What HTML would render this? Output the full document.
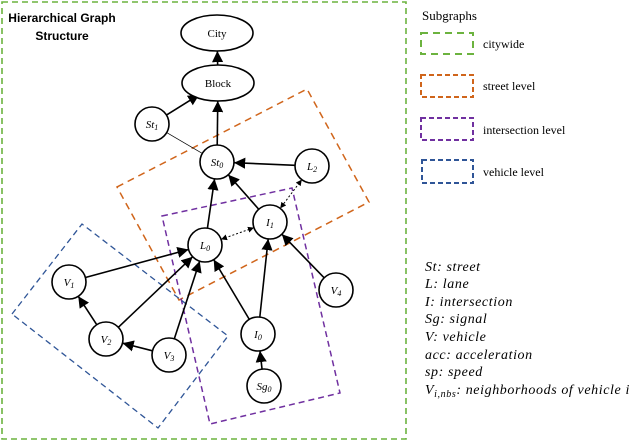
<!DOCTYPE html>
<html><head><meta charset="utf-8"><style>
body{margin:0;background:#fff;}
svg{display:block;}
.n{fill:#fff;stroke:#000;stroke-width:1.6;}
.t{font-family:"Liberation Serif",serif;font-size:11px;font-style:italic;}
.lg{font-family:"Liberation Serif",serif;font-size:12px;}
.it{font-family:"Liberation Serif",serif;font-size:14px;font-style:italic;letter-spacing:0.6px;}
</style></head><body>
<svg id="s" width="640" height="442" viewBox="0 0 640 442" xmlns="http://www.w3.org/2000/svg">
<defs><marker id="a" viewBox="0 0 10 10" refX="10" refY="5" markerWidth="6" markerHeight="6" orient="auto-start-reverse"><path d="M0,0L10,5L0,10z"/></marker>
<marker id="b" viewBox="0 0 10 10" refX="10" refY="5" markerWidth="7" markerHeight="7" orient="auto-start-reverse"><path d="M0,0L10,5L0,10z"/></marker></defs>
<rect x="2" y="2" width="404" height="437" fill="none" stroke="#6cb33f" stroke-width="1.6" stroke-dasharray="6,4"/>
<polygon points="117,187 307,89 369,202 179,300" fill="none" stroke="#d0651b" stroke-width="1.5" stroke-dasharray="7,5"/>
<polygon points="162,216 292,188 340,393 210,424" fill="none" stroke="#7030a0" stroke-width="1.5" stroke-dasharray="6,4"/>
<polygon points="12,314 82,224 228,336 158,428" fill="none" stroke="#2f5597" stroke-width="1.3" stroke-dasharray="6,4"/>
<text x="62" y="22" text-anchor="middle" font-family="Liberation Sans,sans-serif" font-weight="bold" font-size="12">Hierarchical Graph</text>
<text x="62" y="40" text-anchor="middle" font-family="Liberation Sans,sans-serif" font-weight="bold" font-size="12">Structure</text>
<g id="e"></g>
<ellipse class="n" cx="217" cy="33" rx="36" ry="18"/><text x="217" y="37" text-anchor="middle" font-family="Liberation Serif,serif" font-size="11">City</text>
<ellipse class="n" cx="218" cy="83" rx="36" ry="18"/><text x="218" y="87" text-anchor="middle" font-family="Liberation Serif,serif" font-size="11">Block</text>
<g id="nodes"></g>
<text x="422" y="20" font-family="Liberation Serif,serif" font-size="13">Subgraphs</text>
<rect x="421" y="33" width="52" height="21" fill="none" stroke="#6cb33f" stroke-width="2" stroke-dasharray="7,5"/>
<rect x="421" y="75" width="52" height="22" fill="none" stroke="#d0651b" stroke-width="2" stroke-dasharray="5,3"/>
<rect x="421" y="118" width="52" height="22" fill="none" stroke="#7030a0" stroke-width="2" stroke-dasharray="5,3"/>
<rect x="422" y="160" width="51" height="23" fill="none" stroke="#2f5597" stroke-width="2" stroke-dasharray="5,3"/>
<text class="lg" x="483" y="48">citywide</text>
<text class="lg" x="483" y="90">street level</text>
<text class="lg" x="483" y="134">intersection level</text>
<text class="lg" x="483" y="176">vehicle level</text>
<text class="it" x="425" y="271">St: street</text>
<text class="it" x="425" y="288">L: lane</text>
<text class="it" x="425" y="306">I: intersection</text>
<text class="it" x="425" y="323">Sg: signal</text>
<text class="it" x="425" y="341">V: vehicle</text>
<text class="it" x="425" y="359">acc: acceleration</text>
<text class="it" x="425" y="376">sp: speed</text>
<text class="it" x="425" y="394">V<tspan font-size="10" dy="3">i,nbs</tspan><tspan dy="-3">: neighborhoods of vehicle i</tspan></text>
</svg>
<script>
var N={St1:[152,124,'St','1'],St0:[217,162,'St','0'],L2:[312,166,'L','2'],I1:[270,222,'I','1'],L0:[205,245,'L','0'],V1:[69,282,'V','1'],V2:[106,339,'V','2'],V3:[169,355,'V','3'],I0:[258,334,'I','0'],Sg0:[264,386,'Sg','0'],V4:[336,290,'V','4']};
var R=17,ns='http://www.w3.org/2000/svg',e=document.getElementById('e'),g=document.getElementById('nodes');
function pt(k){if(k=='Block')return[218,83,0];if(k=='City')return[217,33,0];return[N[k][0],N[k][1],R];}
function edge(f,t,type){var a=pt(f),b=pt(t);var dx=b[0]-a[0],dy=b[1]-a[1],d=Math.hypot(dx,dy);
var ra=f=='Block'?18:a[2],rb=t=='Block'||t=='City'?18:b[2];
if(t=='Block'&&f=='St1'){rb=22;}
var l=document.createElementNS(ns,'line');
l.setAttribute('x1',a[0]+dx/d*ra);l.setAttribute('y1',a[1]+dy/d*ra);l.setAttribute('x2',b[0]-dx/d*rb);l.setAttribute('y2',b[1]-dy/d*rb);
l.setAttribute('stroke','#000');
if(type=='dd'){l.setAttribute('stroke-width','1');l.setAttribute('stroke-dasharray','2,2');l.setAttribute('marker-end','url(#a)');l.setAttribute('marker-start','url(#a)');}
else if(type=='thin'){l.setAttribute('stroke-width','0.7');}
else{l.setAttribute('stroke-width','1.6');l.setAttribute('marker-end','url(#b)');}
e.appendChild(l);}
edge('Block','City');edge('St1','Block');edge('St0','Block');edge('L2','St0');edge('L0','St0');edge('I1','St0');
edge('L2','I1','dd');edge('L0','I1','dd');edge('St1','St0','thin');
edge('V1','L0');edge('V2','L0');edge('V3','L0');edge('I0','L0');edge('I0','I1');edge('V4','I1');edge('V2','V1');edge('V3','V2');edge('Sg0','I0');
for(var k in N){var n=N[k];var c=document.createElementNS(ns,'circle');c.setAttribute('cx',n[0]);c.setAttribute('cy',n[1]);c.setAttribute('r',R);c.setAttribute('class','n');g.appendChild(c);
var t=document.createElementNS(ns,'text');t.setAttribute('x',n[0]);t.setAttribute('y',n[1]+4);t.setAttribute('text-anchor','middle');t.setAttribute('class','t');
t.innerHTML=n[2]+'<tspan font-size="8" dy="2">'+n[3]+'</tspan>';g.appendChild(t);}
</script>
</body></html>
